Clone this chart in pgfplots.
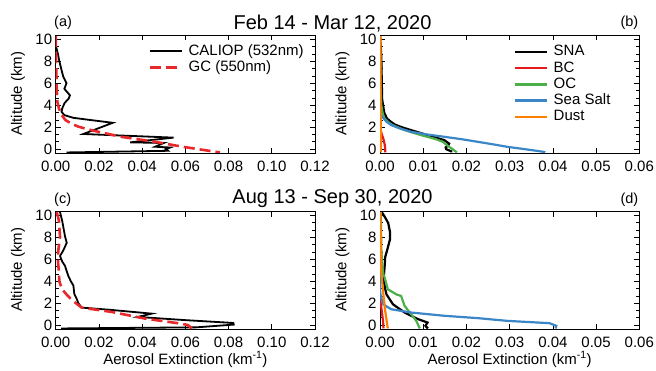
\documentclass[border=0pt]{standalone}
\usepackage{fontspec}
\setmainfont{Liberation Sans}
\usepackage{pgfplots}
\pgfplotsset{compat=1.18}
\definecolor{cBC}{HTML}{E41A1C}
\definecolor{cOC}{HTML}{4DAF4A}
\definecolor{cSS}{HTML}{3A86C6}
\definecolor{cDU}{HTML}{FF7F00}
\definecolor{cGC}{HTML}{E8282B}
\pgfplotsset{
  panel/.style={
    scale only axis, width=259.3pt, height=117.5pt, anchor=south west,
    xmin=0, ymin=-0.35, ymax=10.35,
    ytick={0,2,4,6,8,10}, minor y tick num=2,
    tick align=inside, xtick pos=both, ytick pos=both,
    major tick length=5pt, minor tick length=3pt,
    every tick/.style={black, line width=0.7pt},
    axis line style={line width=0.8pt},
    scaled x ticks=false,
    /pgf/number format/assume math mode=true,
    tick label style={font=\fontsize{15}{15}\selectfont},
    xticklabel style={/pgf/number format/fixed, /pgf/number format/fixed zerofill, /pgf/number format/precision=2, anchor=base, yshift=-18.5pt, inner ysep=0pt},
    yticklabel style={inner ysep=0pt},
    ylabel={Altitude (km)},
    ylabel style={font=\fontsize{15}{15}\selectfont, at={(axis description cs:-0.145,0.505)}, anchor=center},
    legend style={draw=none, fill=none, anchor=north west, inner sep=0pt, column sep=5pt,
      font=\fontsize{15}{15}\selectfont,
      nodes={inner sep=0.8pt, text height=11pt, text depth=3.5pt}},
    legend cell align=left,
    legend image code/.code={\draw[#1] (0pt,0pt) -- (32pt,0pt);},
  },
  lowpanel/.style={
    xlabel={Aerosol Extinction (km\textsuperscript{-1})},
    xlabel style={font=\fontsize{15}{15}\selectfont, at={(axis description cs:0.5,-0.298)}, anchor=base},
  },
  cal/.style={black, line width=1.8pt},
  gc/.style={cGC, line width=2.6pt, dash pattern=on 11pt off 5pt},
  sp/.style={line width=2.2pt},
}
\begin{document}
\begin{tikzpicture}
\useasboundingbox (0,0) rectangle (656pt,370pt);
% (a)
\begin{axis}[panel, at={(55.7pt,217pt)}, xmax=0.12,
  xtick={0,0.02,0.04,0.06,0.08,0.1,0.12},
  legend style={at={(0.356,0.936)}}]
\addplot[cal] coordinates {
(0.0000,10.0) (0.0002,9.3) (0.0010,8.7) (0.0017,8.0) (0.0027,7.2) (0.0035,6.6)
(0.0050,6.0) (0.0040,5.5) (0.0066,4.9) (0.0060,4.6) (0.0041,4.2) (0.0030,3.7)
(0.0027,3.4) (0.0040,3.1) (0.0082,2.85) (0.0264,2.4) (0.0128,1.38) (0.0545,1.05)
(0.0345,0.62) (0.0500,0.56) (0.0460,0.22) (0.0530,0.15) (0.0510,0.0) (0.0520,-0.15)
(0.0050,-0.3)};
\addlegendentry{CALIOP (532nm)}
\addplot[gc] coordinates {
(0.0000,10.3) (0.0002,8.0) (0.0004,6.0) (0.0006,5.0) (0.0008,4.3) (0.0015,3.7)
(0.0028,3.1) (0.0045,2.65) (0.0075,2.3) (0.0105,2.05) (0.0150,1.8) (0.0200,1.57)
(0.0305,1.12) (0.0380,0.9) (0.0460,0.67) (0.0530,0.42) (0.0590,0.21) (0.0660,0.0)
(0.0760,-0.3)};
\addlegendentry{GC (550nm)}
\end{axis}
% (b)
\begin{axis}[panel, at={(380pt,217pt)}, xmax=0.06,
  xtick={0,0.01,0.02,0.03,0.04,0.05,0.06},
  legend style={at={(0.515,0.928)}}]
\addplot[sp, black] coordinates {
(0.0000,10.3) (0.0003,8.5) (0.0004,6.3) (0.0005,4.5) (0.0007,4.0) (0.0010,3.3)
(0.0016,2.8) (0.0025,2.5) (0.0034,2.25) (0.0050,2.0) (0.0072,1.73) (0.0110,1.28)
(0.0149,0.82) (0.0160,0.5) (0.0158,0.35) (0.0152,0.15) (0.0153,0.0) (0.0165,-0.2)
(0.0165,-0.3)};
\addlegendentry{SNA}
\addplot[sp, cBC] coordinates {
(0.0000,10.3) (0.0000,2.0) (0.0003,1.5) (0.0008,0.9) (0.0011,0.4) (0.0012,0.0)
(0.0012,-0.3)};
\addlegendentry{BC}
\addplot[sp, cOC] coordinates {
(0.0000,10.3) (0.0001,6.0) (0.0003,4.0) (0.0006,3.3) (0.0010,2.8) (0.0018,2.5)
(0.0026,2.25) (0.0040,2.0) (0.0057,1.73) (0.0080,1.45) (0.0103,1.19) (0.0130,0.9)
(0.0145,0.67) (0.0157,0.3) (0.0168,0.0) (0.0178,-0.3)};
\addlegendentry{OC}
\addplot[sp, cSS] coordinates {
(0.0000,10.3) (0.0000,3.2) (0.0005,2.95) (0.0015,2.5) (0.0026,2.19) (0.0045,1.9)
(0.0072,1.58) (0.0110,1.33) (0.0150,1.12) (0.0190,0.9) (0.0226,0.67) (0.0260,0.45)
(0.0295,0.21) (0.0335,0.0) (0.0380,-0.25) (0.0382,-0.3)};
\addlegendentry{Sea Salt}
\addplot[sp, cDU] coordinates {
(0.0001,10.3) (0.0001,5.0) (0.0002,1.0) (0.0002,-0.3)};
\addlegendentry{Dust}
\end{axis}
% (c)
\begin{axis}[panel, lowpanel, at={(55.7pt,41pt)}, xmax=0.12,
  xtick={0,0.02,0.04,0.06,0.08,0.1,0.12}]
\addplot[cal] coordinates {
(0.0020,10.3) (0.0030,9.5) (0.0043,8.1) (0.0051,7.5) (0.0035,6.8) (0.0020,6.3)
(0.0030,5.8) (0.0043,5.4) (0.0058,4.5) (0.0070,4.0) (0.0082,3.6) (0.0086,2.85)
(0.0097,2.4) (0.0105,2.0) (0.0120,1.6) (0.0250,1.4) (0.0444,1.05) (0.0380,0.75)
(0.0606,0.45) (0.0822,0.2) (0.0824,0.05) (0.0650,-0.2) (0.0025,-0.3)};
\addplot[gc] coordinates {
(0.0005,10.3) (0.0015,9.5) (0.0020,8.0) (0.0012,6.8) (0.0010,6.0) (0.0014,5.0)
(0.0017,4.0) (0.0028,3.3) (0.0050,2.8) (0.0074,2.3) (0.0120,1.6) (0.0260,1.2)
(0.0413,0.6) (0.0583,0.13) (0.0613,0.0) (0.0630,-0.3)};
\end{axis}
% (d)
\begin{axis}[panel, lowpanel, at={(380pt,41pt)}, xmax=0.06,
  xtick={0,0.01,0.02,0.03,0.04,0.05,0.06}]
\addplot[sp, black] coordinates {
(0.0004,10.3) (0.0012,9.8) (0.0019,9.3) (0.0023,8.5) (0.0023,7.8) (0.0017,6.9)
(0.0012,6.2) (0.0011,5.5) (0.0009,4.5) (0.0009,4.0) (0.0012,3.3) (0.0015,2.8)
(0.0030,1.9) (0.0057,1.15) (0.0088,0.55) (0.0110,0.24) (0.0105,-0.06) (0.0111,-0.3)};
\addplot[sp, cBC] coordinates {
(0.0000,10.3) (0.0000,2.5) (0.0003,1.6) (0.0007,0.39) (0.0008,-0.3)};
\addplot[sp, cOC] coordinates {
(0.0002,10.3) (0.0003,7.0) (0.0005,5.5) (0.0008,4.6) (0.0011,4.3) (0.0018,3.27)
(0.0038,2.8) (0.0049,2.65) (0.0052,2.3) (0.0057,1.75) (0.0072,1.0) (0.0084,0.39)
(0.0092,-0.3)};
\addplot[sp, cSS] coordinates {
(0.0000,10.3) (0.0000,3.0) (0.0003,2.5) (0.0007,1.9) (0.0026,1.45) (0.0072,1.15)
(0.0150,0.85) (0.0226,0.64) (0.0295,0.39) (0.0392,0.18) (0.0408,-0.06) (0.0406,-0.3)};
\addplot[sp, cDU] coordinates {
(0.0001,10.3) (0.0002,7.0) (0.0003,4.9) (0.0007,3.1) (0.0012,1.3) (0.0018,-0.3)};
\end{axis}
\node[anchor=base, inner sep=0pt, font=\fontsize{20}{20}\selectfont] at (332.5pt,340.5pt) {Feb 14 - Mar 12, 2020};
\node[anchor=base, inner sep=0pt, font=\fontsize{20}{20}\selectfont] at (332.5pt,166pt) {Aug 13 - Sep 30, 2020};
\node[anchor=base west, inner sep=0pt, font=\fontsize{14.5}{14.5}\selectfont] at (54pt,343pt) {(a)};
\node[anchor=base east, inner sep=0pt, font=\fontsize{14.5}{14.5}\selectfont] at (638.5pt,343pt) {(b)};
\node[anchor=base west, inner sep=0pt, font=\fontsize{14.5}{14.5}\selectfont] at (54pt,167pt) {(c)};
\node[anchor=base east, inner sep=0pt, font=\fontsize{14.5}{14.5}\selectfont] at (638.5pt,167pt) {(d)};
\end{tikzpicture}
\end{document}
